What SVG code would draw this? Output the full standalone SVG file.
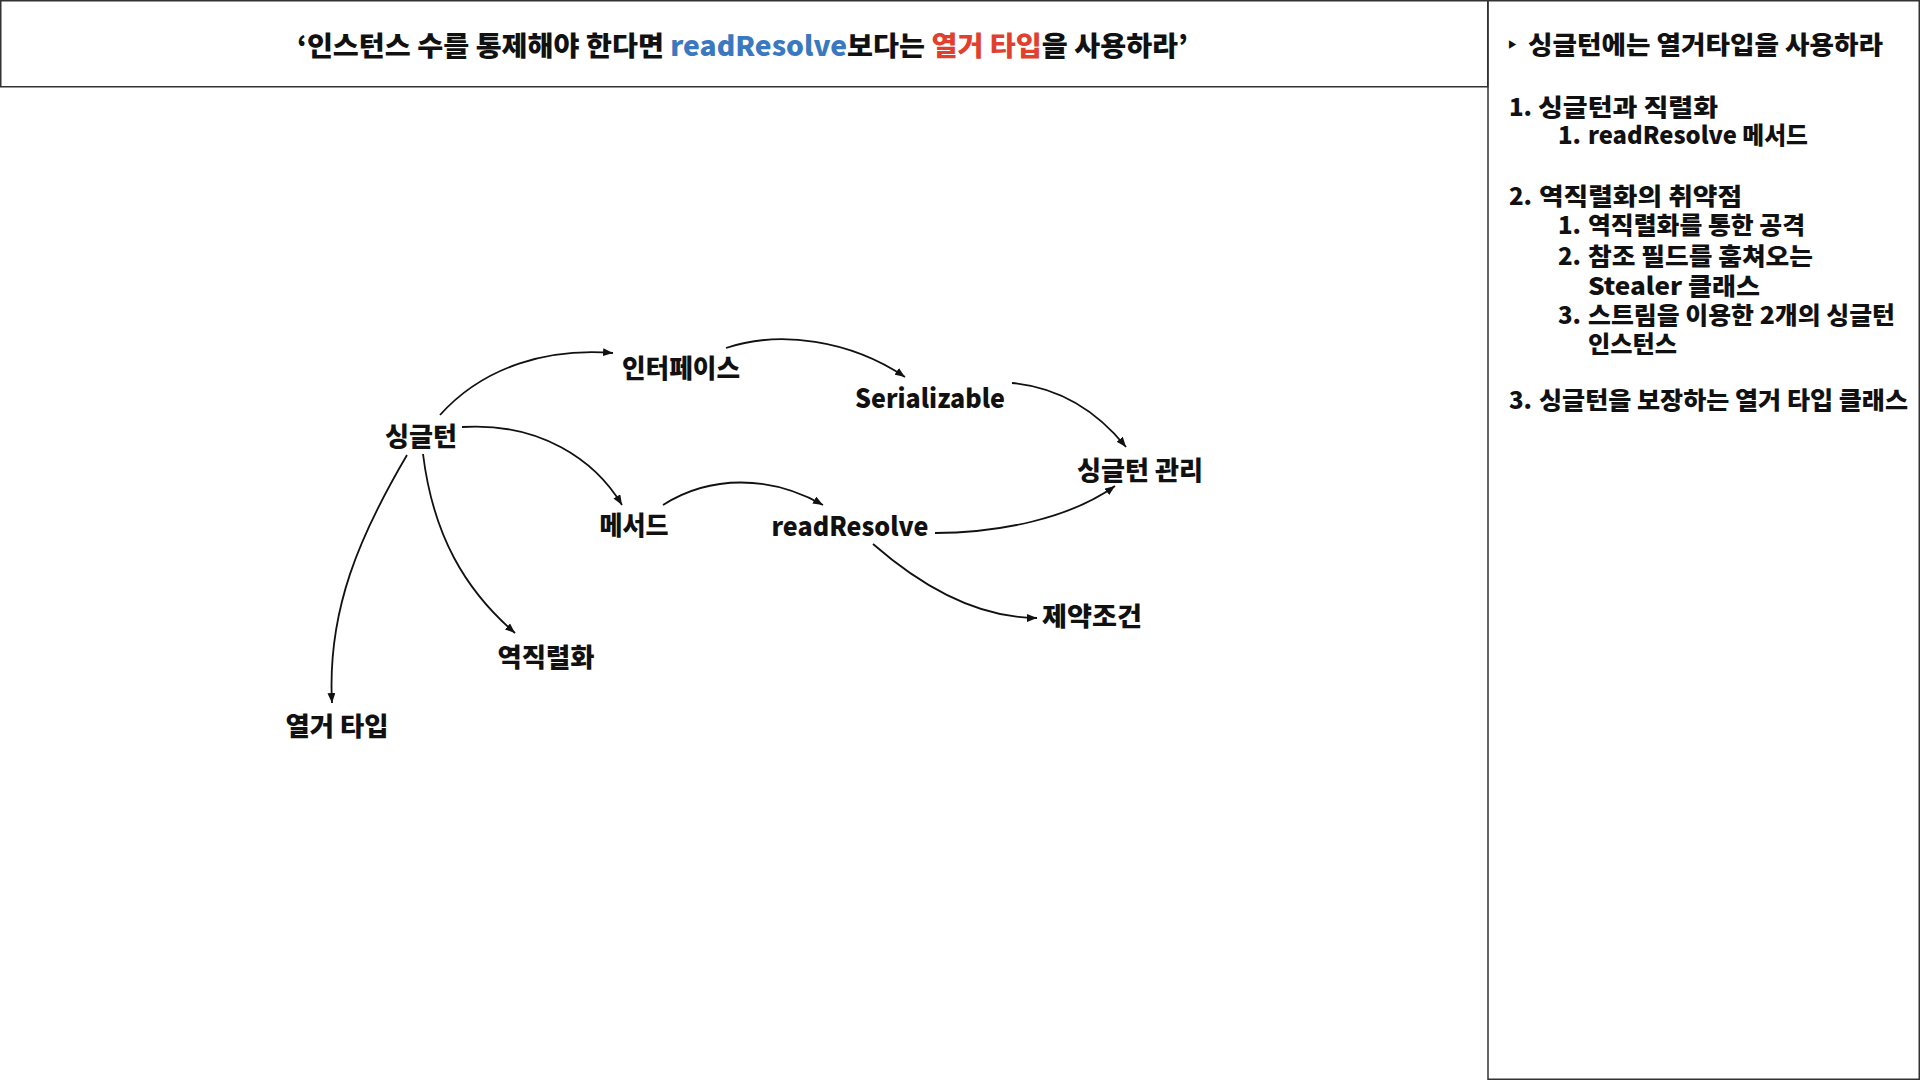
<svg xmlns="http://www.w3.org/2000/svg" width="1920" height="1080" viewBox="0 0 1920 1080">
<style>
  text { font-family: "Noto Sans CJK KR", "Noto Sans", sans-serif; font-weight: 900; fill: #111; }
  .node { font-size: 26px; text-anchor: middle; }
  .title { font-size: 27px; text-anchor: middle; }
  .side { font-size: 24px; }
  .sideh { font-size: 25px; }
  .frame { fill: none; stroke: #333; stroke-width: 1.5; }
  .edge { fill: none; stroke: #111; stroke-width: 1.8; }
  .blue { fill: #3a78c0; }
  .red { fill: #e0402d; }
</style>
<defs>
  <marker id="arrow" viewBox="0 0 10 8" refX="10" refY="4" markerWidth="10" markerHeight="8" markerUnits="userSpaceOnUse" orient="auto">
    <path d="M0,0 L10,4 L0,8 Z" fill="#111"/>
  </marker>
</defs>
<rect width="1920" height="1080" fill="#ffffff"/>

<g id="header">
  <rect class="frame" x="0.75" y="0.75" width="1487" height="86"/>
  <text class="title" x="742.5" y="56" textLength="891" lengthAdjust="spacingAndGlyphs">‘인스턴스 수를 통제해야 한다면 <tspan class="blue">readResolve</tspan>보다는 <tspan class="red">열거 타입</tspan>을 사용하라’</text>
</g>

<g id="side-panel">
  <rect class="frame" x="1488" y="0.75" width="431.25" height="1078.5"/>
  <text x="1508" y="51" font-family="DejaVu Sans, sans-serif" font-size="18">‣</text>
  <text class="sideh" x="1528" y="54" textLength="355" lengthAdjust="spacingAndGlyphs">싱글턴에는 열거타입을 사용하라</text>
  <text class="side" x="1509" y="116">1.</text>
  <text class="side" x="1538" y="116" textLength="180" lengthAdjust="spacingAndGlyphs">싱글턴과 직렬화</text>
  <text class="side" x="1558" y="144">1.</text>
  <text class="side" x="1588" y="144" textLength="220" lengthAdjust="spacingAndGlyphs">readResolve 메서드</text>
  <text class="side" x="1509" y="205">2.</text>
  <text class="side" x="1539" y="205" textLength="203" lengthAdjust="spacingAndGlyphs">역직렬화의 취약점</text>
  <text class="side" x="1558" y="234">1.</text>
  <text class="side" x="1588" y="234" textLength="217" lengthAdjust="spacingAndGlyphs">역직렬화를 통한 공격</text>
  <text class="side" x="1558" y="265">2.</text>
  <text class="side" x="1588" y="265" textLength="225" lengthAdjust="spacingAndGlyphs">참조 필드를 훔쳐오는</text>
  <text class="side" x="1588" y="295" textLength="172" lengthAdjust="spacingAndGlyphs">Stealer 클래스</text>
  <text class="side" x="1558" y="324">3.</text>
  <text class="side" x="1588" y="324" textLength="307" lengthAdjust="spacingAndGlyphs">스트림을 이용한 2개의 싱글턴</text>
  <text class="side" x="1588" y="353" textLength="89" lengthAdjust="spacingAndGlyphs">인스턴스</text>
  <text class="side" x="1509" y="409">3.</text>
  <text class="side" x="1539" y="409" textLength="369" lengthAdjust="spacingAndGlyphs">싱글턴을 보장하는 열거 타입 클래스</text>
</g>

<g id="connectors">
  <path class="edge" marker-end="url(#arrow)" d="M440,415 C485,365 550,348 613,353"/>
  <path class="edge" marker-end="url(#arrow)" d="M726,348 C780,330 850,340 905,377"/>
  <path class="edge" marker-end="url(#arrow)" d="M1012,383 C1065,388 1100,415 1126,447"/>
  <path class="edge" marker-end="url(#arrow)" d="M462,427 C540,422 595,460 622,505"/>
  <path class="edge" marker-end="url(#arrow)" d="M663,505 C710,475 770,475 823,505"/>
  <path class="edge" marker-end="url(#arrow)" d="M935,533 C1000,533 1070,518 1115,486"/>
  <path class="edge" marker-end="url(#arrow)" d="M873,544 C920,585 975,618 1037,618"/>
  <path class="edge" marker-end="url(#arrow)" d="M423,454 C433,535 465,590 515,633"/>
  <path class="edge" marker-end="url(#arrow)" d="M407,455 C360,535 327,610 332,703"/>
</g>

<g id="node-singleton"><text class="node" x="421" y="446" textLength="72" lengthAdjust="spacingAndGlyphs">싱글턴</text></g>
<g id="node-interface"><text class="node" x="681" y="378" textLength="118" lengthAdjust="spacingAndGlyphs">인터페이스</text></g>
<g id="node-serializable"><text class="node" x="930" y="408" textLength="150" lengthAdjust="spacingAndGlyphs">Serializable</text></g>
<g id="node-singleton-manage"><text class="node" x="1140" y="480" textLength="126" lengthAdjust="spacingAndGlyphs">싱글턴 관리</text></g>
<g id="node-method"><text class="node" x="634" y="535" textLength="69" lengthAdjust="spacingAndGlyphs">메서드</text></g>
<g id="node-readresolve"><text class="node" x="850" y="536" textLength="157" lengthAdjust="spacingAndGlyphs">readResolve</text></g>
<g id="node-constraint"><text class="node" x="1092" y="626" textLength="100" lengthAdjust="spacingAndGlyphs">제약조건</text></g>
<g id="node-deserialization"><text class="node" x="546" y="667" textLength="97" lengthAdjust="spacingAndGlyphs">역직렬화</text></g>
<g id="node-enum"><text class="node" x="337" y="736" textLength="103" lengthAdjust="spacingAndGlyphs">열거 타입</text></g>
</svg>
